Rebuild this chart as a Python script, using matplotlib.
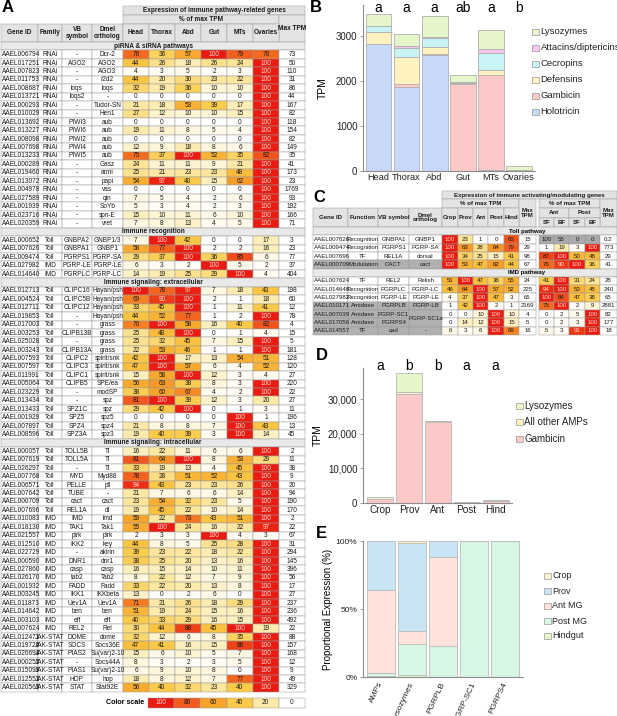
import matplotlib
matplotlib.use("Agg")
import matplotlib.pyplot as plt
from matplotlib.patches import Rectangle
from matplotlib.colors import LinearSegmentedColormap
import numpy as np

plt.rcParams["font.family"] = ["Liberation Sans", "DejaVu Sans"]

W, H = 617, 716

# ---------------------------------------------------------------- panel A data
A_TISSUES = ["Head", "Thorax", "Abd", "Gut", "MTs", "Ovaries"]

A_PIRNA = [
    ("AAEL006794", "RNAi", "-", "Dcr-2", [76, 36, 57, 100, 79, 76], "73"),
    ("AAEL017251", "RNAi", "AGO2", "AGO2", [44, 26, 18, 26, 24, 100], "50"),
    ("AAEL007823", "RNAi", "-", "AGO3", [4, 3, 5, 2, 3, 100], "110"),
    ("AAEL011753", "RNAi", "-", "r2d2", [44, 20, 30, 23, 22, 100], "31"),
    ("AAEL008687", "RNAi", "loqs", "loqs", [32, 19, 36, 10, 10, 100], "86"),
    ("AAEL013721", "RNAi", "loqs2", "-", [0, 0, 0, 0, 0, 100], "44"),
    ("AAEL000293", "RNAi", "-", "Tudor-SN", [21, 18, 53, 39, 17, 100], "167"),
    ("AAEL010029", "RNAi", "-", "Hen1", [27, 12, 10, 10, 15, 100], "82"),
    ("AAEL013692", "RNAi", "PIWI3", "aub", [0, 0, 0, 0, 0, 100], "118"),
    ("AAEL013227", "RNAi", "PIWI6", "aub", [19, 11, 8, 5, 4, 100], "154"),
    ("AAEL008098", "RNAi", "PIWI2", "aub", [0, 0, 0, 0, 0, 100], "82"),
    ("AAEL007698", "RNAi", "PIWI4", "aub", [12, 9, 18, 8, 6, 100], "149"),
    ("AAEL013233", "RNAi", "PIWI5", "aub", [75, 37, 100, 52, 35, 82], "35"),
    ("AAEL000289", "RNAi", "-", "Gasz", [24, 11, 11, 9, 21, 100], "41"),
    ("AAEL019460", "RNAi", "-", "armi", [25, 21, 23, 23, 48, 100], "173"),
    ("AAEL013072", "RNAi", "-", "papi", [54, 97, 40, 15, 62, 100], "23"),
    ("AAEL004978", "RNAi", "-", "vas", [0, 0, 0, 0, 0, 100], "1769"),
    ("AAEL027589", "RNAi", "-", "qin", [7, 5, 4, 2, 6, 100], "93"),
    ("AAEL001939", "RNAi", "-", "SoYb", [5, 3, 4, 2, 3, 100], "192"),
    ("AAEL023716", "RNAi", "-", "spn-E", [15, 10, 11, 6, 10, 100], "166"),
    ("AAEL020359", "RNAi", "-", "vret", [7, 8, 13, 4, 5, 100], "71"),
]

A_RECOG = [
    ("AAEL000652", "Toll", "GNBPA2", "GNBP1/3", [7, 100, 42, 0, 0, 17], "3"),
    ("AAEL007626", "Toll", "GNBPA1", "GNBP1", [56, 77, 100, 2, 2, 16], "23"),
    ("AAEL009474", "Toll", "PGRPS1", "PGRP-SA", [29, 37, 100, 36, 85, 6], "77"),
    ("AAEL027982", "IMD", "PGRP-LE", "PGRP-LE", [6, 3, 2, 100, 5, 2], "37"),
    ("AAEL014640", "IMD", "PGRPLC", "PGRP-LC", [14, 19, 25, 29, 100, 4], "404"),
]

A_EXTRA = [
    ("AAEL012713", "Toll", "CLIPC16", "Hayan/psh", [100, 78, 97, 7, 18, 43], "198"),
    ("AAEL004524", "Toll", "CLIPC5B", "Hayan/psh", [69, 90, 100, 2, 1, 18], "60"),
    ("AAEL012711", "Toll", "CLIPC12", "Hayan/psh", [33, 45, 100, 1, 11, 41], "12"),
    ("AAEL019853", "Toll", "-", "Hayan/psh", [44, 52, 77, 1, 2, 100], "78"),
    ("AAEL017003", "Toll", "-", "grass", [70, 100, 58, 16, 40, 82], "4"),
    ("AAEL003253", "Toll", "CLIPB13B", "grass", [25, 48, 100, 0, 1, 4], "15"),
    ("AAEL025028", "Toll", "-", "grass", [25, 32, 45, 7, 15, 100], "5"),
    ("AAEL003243", "Toll", "CLIPB13A", "grass", [22, 53, 46, 1, 1, 100], "181"),
    ("AAEL007593", "Toll", "CLIPC2", "spirit/snk", [42, 100, 17, 13, 54, 51], "128"),
    ("AAEL007597", "Toll", "CLIPC3", "spirit/snk", [47, 100, 57, 6, 4, 52], "120"),
    ("AAEL011991", "Toll", "CLIPC1", "spirit/snk", [15, 58, 100, 12, 3, 4], "27"),
    ("AAEL005064", "Toll", "CLIPB5", "SPE/ea", [56, 63, 38, 8, 3, 100], "220"),
    ("AAEL023229", "Toll", "-", "modSP", [38, 60, 67, 4, 2, 100], "22"),
    ("AAEL013434", "Toll", "-", "spz", [81, 100, 39, 12, 3, 20], "27"),
    ("AAEL013433", "Toll", "SPZ1C", "spz", [29, 42, 100, 0, 1, 3], "11"),
    ("AAEL001929", "Toll", "SPZ5", "spz5", [0, 0, 0, 0, 100, 1], "196"),
    ("AAEL007897", "Toll", "SPZ4", "spz4", [21, 8, 8, 7, 100, 43], "13"),
    ("AAEL008596", "Toll", "SPZ3A", "spz3", [19, 40, 39, 3, 100, 14], "45"),
]

A_INTRA = [
    ("AAEL000057", "Toll", "TOLL5B", "Tl", [16, 22, 11, 6, 6, 100], "2"),
    ("AAEL007619", "Toll", "TOLL5A", "Tl", [81, 64, 100, 8, 53, 29], "11"),
    ("AAEL026297", "Toll", "-", "Tl", [33, 19, 13, 4, 45, 100], "38"),
    ("AAEL007768", "Toll", "MYD", "Myd88", [78, 28, 51, 52, 43, 100], "9"),
    ("AAEL006571", "Toll", "PELLE", "pll", [94, 43, 23, 23, 26, 100], "20"),
    ("AAEL007642", "Toll", "TUBE", "-", [21, 7, 6, 6, 14, 100], "94"),
    ("AAEL000709", "Toll", "cact", "cact", [23, 54, 32, 23, 5, 100], "190"),
    ("AAEL007696", "Toll", "REL1A", "dl", [19, 45, 22, 10, 14, 100], "170"),
    ("AAEL010083", "IMD", "IMD", "imd", [59, 22, 73, 43, 51, 100], "2"),
    ("AAEL018130", "IMD", "TAK1", "Tak1", [55, 100, 24, 16, 22, 97], "22"),
    ("AAEL021557", "IMD", "pirk", "pirk", [2, 3, 3, 100, 4, 3], "67"),
    ("AAEL012510", "IMD", "IKK2", "key", [44, 8, 5, 25, 28, 100], "31"),
    ("AAEL022729", "IMD", "-", "akirin", [39, 23, 22, 18, 22, 100], "294"),
    ("AAEL000590", "IMD", "DNR1", "dnr1", [38, 25, 20, 13, 16, 100], "145"),
    ("AAEL027860", "IMD", "casp", "casp", [16, 15, 14, 10, 11, 100], "396"),
    ("AAEL026170", "IMD", "tab2", "Tab2", [8, 22, 12, 7, 9, 100], "56"),
    ("AAEL001932", "IMD", "FADD", "Fadd", [33, 22, 20, 13, 8, 100], "17"),
    ("AAEL003245", "IMD", "IKK1", "IKKbeta", [13, 0, 2, 6, 0, 100], "27"),
    ("AAEL011873", "IMD", "Uev1A", "Uev1A", [71, 21, 26, 18, 29, 100], "237"),
    ("AAEL014642", "IMD", "ben", "ben", [51, 19, 24, 15, 16, 100], "236"),
    ("AAEL003103", "IMD", "eff", "eff", [40, 33, 29, 16, 15, 100], "492"),
    ("AAEL007624", "IMD", "REL2", "Rel", [30, 44, 88, 45, 100, 19], "22"),
    ("AAEL012471", "JAK-STAT", "DOME", "dome", [32, 12, 6, 8, 35, 100], "88"),
    ("AAEL019726", "JAK-STAT", "SOCS", "Socs36E", [47, 41, 16, 15, 88, 100], "157"),
    ("AAEL026694", "JAK-STAT", "PIAS2", "Su(var)2-10", [15, 6, 10, 5, 7, 100], "168"),
    ("AAEL000255", "JAK-STAT", "-", "Socs44A", [8, 3, 2, 3, 5, 100], "12"),
    ("AAEL015099", "JAK-STAT", "PIAS1", "Su(var)2-10", [6, 9, 10, 8, 0, 100], "9"),
    ("AAEL012553", "JAK-STAT", "HOP", "hop", [18, 8, 12, 7, 77, 100], "49"),
    ("AAEL020569", "JAK-STAT", "STAT", "Stat92E", [56, 40, 32, 23, 40, 100], "329"),
]

A_SECTIONS = [
    ("piRNA & siRNA pathways", A_PIRNA),
    ("Immune recognition", A_RECOG),
    ("Immune signaling: extracellular", A_EXTRA),
    ("Immune signaling: intracellular", A_INTRA),
]
SCALE_VALUES = [100, 80, 60, 40, 20, 0]

# ---------------------------------------------------------------- panel B data
B_TISSUES = ["Head", "Thorax", "Abd", "Gut", "MTs", "Ovaries"]
B_HOLOTRICIN = [2820, 1870, 2590, 5, 30, 10]
B_GAMBICIN = [20, 60, 20, 1925, 2120, 15]
B_DEFENSINS = [256, 609, 152, 37, 104, 5]
B_CECROPINS = [126, 208, 208, 5, 371, 2]
B_ATTACINS = [18, 30, 10, 2, 97, 1]
B_LYSOZYMES = [249, 282, 465, 164, 423, 70]
B_LETTERS = ["a", "a", "a", "ab", "a", "b"]

# ---------------------------------------------------------------- panel C data
C_TOLL = [
    ("AAEL007626", "Recognition", "GNBPA1", "GNBP1", [100, 23, 1, 0, 83], "15", [100, 55, 0, 0], "0.2"),
    ("AAEL009474", "Recognition", "PGRPS1", "PGRP-SA", [100, 63, 28, 64, 79], "29", [1, 19, 3, 100], "773"),
    ("AAEL007696", "TF", "REL1A", "dorsal", [100, 34, 25, 15, 41], "98", [87, 100, 50, 48], "29"),
    ("AAEL000709", "Modulation", "CACT", "cact", [100, 53, 47, 62, 44], "67", [76, 90, 100, 36], "41"),
]
C_IMD = [
    ("AAEL007624", "TF", "REL2", "Relish", [51, 100, 47, 36, 55], "24", [41, 100, 31, 24], "28"),
    ("AAEL014640", "Recognition", "PGRPLC", "PGRP-LC", [46, 64, 100, 57, 52], "225", [94, 100, 53, 45], "240"),
    ("AAEL027982", "Recognition", "PGRP-LE", "PGRP-LE", [4, 37, 100, 47, 3], "65", [100, 84, 47, 38], "65"),
    ("AAEL010171", "Amidase", "PGRPLB", "PGRP-LB", [1, 42, 100, 2, 1], "2169", [75, 100, 2, 9], "2881"),
    ("AAEL007039", "Amidase", "PGRP-SC1", "PGRP-SC1a", [0, 0, 10, 100, 10], "4", [0, 2, 5, 100], "82"),
    ("AAEL017056", "Amidase", "PGRPS4", "", [0, 14, 12, 100, 15], "5", [0, 2, 3, 100], "177"),
    ("AAEL014557", "TF", "cad", "-", [6, 3, 6, 100, 69], "16", [5, 3, 91, 100], "18"),
]
C_GRAY_ROWS = ["AAEL000709", "AAEL010171", "AAEL007039", "AAEL017056", "AAEL014557"]

# ---------------------------------------------------------------- panel D data
D_REGIONS = ["Crop", "Prov", "Ant", "Post", "Hind"]
D_GAMBICIN = [1200, 31400, 23300, 120, 650]
D_OTHER_AMPS = [400, 700, 300, 40, 150]
D_LYSOZYMES = [200, 5400, 150, 40, 80]
D_LETTERS = ["a", "b", "b", "a", "a"]

# ---------------------------------------------------------------- panel E data
E_GENES = ["AMPs", "Lysozymes", "PGRPLB", "PGRP-SC1", "PGRPS4"]
E_HINDGUT = [1, 1.5, 0, 0, 0]
E_POST_MG = [2, 22.5, 23, 100, 100]
E_ANT_MG = [61, 9.5, 65, 0, 0]
E_PROV = [36, 65, 12, 0, 0]
E_CROP = [0, 1.5, 0, 0, 0]

# ---------------------------------------------------------------- styles
HEAT = LinearSegmentedColormap.from_list("heat", [
    (0.0, "#ffffff"), (0.2, "#fdeaa9"), (0.4, "#fbca48"),
    (0.6, "#f8a42a"), (0.8, "#f25b1d"), (1.0, "#ea1b10")])
HDR = "#e3e3e3"
SEC = "#e9e9e9"
GRAY = "#b0b0b0"
LINE = "#9a9a9a"
FS = 4.7
FS_C = 4.4
TFONT = ["Liberation Sans Narrow", "Liberation Sans", "DejaVu Sans"]

fig = plt.figure(figsize=(W / 100, H / 100), dpi=100)
fig.patch.set_facecolor("white")
tax = fig.add_axes([0, 0, 1, 1])
tax.set_xlim(0, W)
tax.set_ylim(H, 0)
tax.axis("off")


def cell(x0, y0, x1, y1, text="", fc="white", fs=FS, bold=False,
         ha="center", color="#1a1a1a", lw=0.35):
    tax.add_patch(Rectangle((x0, y0), x1 - x0, y1 - y0, facecolor=fc,
                            edgecolor=LINE, linewidth=lw))
    if text != "":
        tx = x0 + 1.0 if ha == "left" else (x0 + x1) / 2
        tax.text(tx, (y0 + y1) / 2, text, ha=ha, va="center", fontsize=fs,
                 fontweight="bold" if bold else "normal", color=color,
                 linespacing=0.95, family=TFONT)


def heat_cell(x0, y0, x1, y1, v, fc=None, fs=FS):
    col = HEAT(v / 100) if fc is None else fc
    tc = "#ffd8d0" if (v >= 90 and fc is None) else "#1a1a1a"
    cell(x0, y0, x1, y1, str(v), fc=col, color=tc, fs=fs)


def label(x, y, s):
    tax.text(x, y, s, ha="left", va="center", fontsize=12, fontweight="bold")


# ================================================================ panel A
A_X = [1, 38, 62, 92, 123, 149, 175, 201, 227, 253, 279, 305]
A_Y0, A_RH = 42.0, 8.44
label(2, 8, "A")
cell(123, 6, 305, 15, "Expression of immune pathway-related genes", HDR, bold=True)
cell(123, 15, 279, 23.5, "% of max TPM", HDR, bold=True)
cell(279, 15, 305, 42, "Max TPM", HDR, bold=True)
for i, h in enumerate(["Gene ID", "Family", "VB\nsymbol", "Dmel\northolog"] + A_TISSUES):
    cell(A_X[i], 23.5, A_X[i + 1], 42, h, HDR, bold=True)

y = A_Y0
for title, rows in A_SECTIONS:
    cell(A_X[0], y, A_X[-1], y + A_RH, title, SEC, bold=True)
    y += A_RH
    for gid, fam, vb, dm, vals, mx in rows:
        cell(A_X[0], y, A_X[1], y + A_RH, gid, ha="left")
        cell(A_X[1], y, A_X[2], y + A_RH, fam)
        cell(A_X[2], y, A_X[3], y + A_RH, vb)
        cell(A_X[3], y, A_X[4], y + A_RH, dm)
        for j, v in enumerate(vals):
            heat_cell(A_X[4 + j], y, A_X[5 + j], y + A_RH, v)
        cell(A_X[10], y, A_X[11], y + A_RH, mx)
        y += A_RH

tax.text(144, 703, "Color scale", ha="right", va="center", fontsize=FS + 0.4,
         fontweight="bold", family=TFONT)
sx = np.linspace(148, 305, len(SCALE_VALUES) + 1)
for k, v in enumerate(SCALE_VALUES):
    heat_cell(sx[k], 698, sx[k + 1], 708, v)

# ================================================================ panel C
label(313, 197, "C")
CL = [313, 348, 378, 409, 442]
CM = [442, 458, 473, 488, 504, 519, 536]
CR = [539, 554, 569, 585, 600, 617]
cell(442, 191, 617, 199, "Expression of immune activating/modulating genes", HDR,
     fs=FS_C, bold=True)
cell(442, 199, 519, 208, "% of max TPM", HDR, fs=FS_C, bold=True)
cell(519, 199, 536, 227, "Max\nTPM", HDR, fs=FS_C, bold=True)
cell(539, 199, 600, 208, "% of max TPM", HDR, fs=FS_C, bold=True)
cell(600, 199, 617, 227, "Max\nTPM", HDR, fs=FS_C, bold=True)
cell(539, 208, 569, 217.5, "Ant", HDR, fs=FS_C, bold=True)
cell(569, 208, 600, 217.5, "Post", HDR, fs=FS_C, bold=True)
for k, s in enumerate(["SF", "BF", "SF", "BF"]):
    cell(CR[k], 217.5, CR[k + 1], 227, s, HDR, fs=FS_C, bold=True)
for k, s in enumerate(["Gene ID", "Function", "VB symbol", "Dmel\northolog"]):
    cell(CL[k], 208, CL[k + 1], 227, s, HDR, fs=FS_C, bold=True)
for k, s in enumerate(D_REGIONS):
    cell(CM[k], 208, CM[k + 1], 227, s, HDR, fs=FS_C, bold=True)

C_RH = 8.3
y = 227.0
for title, rows in [("Toll pathway", C_TOLL), ("IMD pathway", C_IMD)]:
    cell(313, y, 617, y + C_RH, "", SEC)
    tax.text(527, y + C_RH / 2, title, ha="center", va="center",
             fontsize=FS_C, fontweight="bold", family=TFONT)
    y += C_RH
    for gid, fn, vb, dm, vals, mx, sfbf, mx2 in rows:
        fc = GRAY if gid in C_GRAY_ROWS else "white"
        cell(CL[0], y, CL[1], y + C_RH, gid, fc, fs=FS_C, ha="left")
        cell(CL[1], y, CL[2], y + C_RH, fn, fc, fs=FS_C)
        cell(CL[2], y, CL[3], y + C_RH, vb, fc, fs=FS_C)
        if dm == "PGRP-SC1a":
            cell(CL[3], y, CL[4], y + 2 * C_RH, dm, fc, fs=FS_C)
        elif dm != "":
            cell(CL[3], y, CL[4], y + C_RH, dm, fc, fs=FS_C)
        for j, v in enumerate(vals):
            heat_cell(CM[j], y, CM[j + 1], y + C_RH, v, fs=FS_C)
        cell(CM[5], y, CM[6], y + C_RH, mx, fs=FS_C)
        for j, v in enumerate(sfbf):
            heat_cell(CR[j], y, CR[j + 1], y + C_RH, v,
                      fc="#a9a9a9" if mx2 == "0.2" else None, fs=FS_C)
        cell(CR[4], y, CR[5], y + C_RH, mx2, fs=FS_C)
        y += C_RH


# ================================================================ chart helpers
def px_axes(x0, y0, x1, y1):
    a = fig.add_axes([x0 / W, 1 - y1 / H, (x1 - x0) / W, (y1 - y0) / H])
    a.set_facecolor("none")
    for s in ["top", "right"]:
        a.spines[s].set_visible(False)
    for s in ["left", "bottom"]:
        a.spines[s].set_color("#8c8c8c")
        a.spines[s].set_linewidth(0.8)
    a.tick_params(axis="both", colors="#8c8c8c", labelcolor="#222222",
                  labelsize=7, length=2.5, width=0.6, pad=1.5)
    a.tick_params(axis="x", length=0)
    return a


def stack(ax, x, layers, colors, edge, width):
    bottom = np.zeros(len(x))
    for vals, c in zip(layers, colors):
        vals = np.asarray(vals, dtype=float)
        ax.bar(x, vals, width, bottom=bottom, color=c, edgecolor=edge,
               linewidth=0.6)
        bottom += vals
    return bottom


def legend(x, ys, names, colors, fs=7):
    for yy, n, c in zip(ys, names, colors):
        tax.add_patch(Rectangle((x, yy - 3.3), 6.6, 6.6, facecolor=c,
                                edgecolor="#9a9a9a", linewidth=0.5))
        tax.text(x + 8.5, yy, n, ha="left", va="center", fontsize=fs,
                 color="#222222")


# ================================================================ panel B
label(310, 8, "B")
B_COLORS = ["#c8d8f8", "#fcc8c8", "#fdf2c0", "#c8f4f6", "#f8c4f2", "#e5f6c8"]
axb = px_axes(363, 5, 535, 171)
xb = np.arange(len(B_TISSUES))
stack(axb, xb, [B_HOLOTRICIN, B_GAMBICIN, B_DEFENSINS, B_CECROPINS,
                B_ATTACINS, B_LYSOZYMES], B_COLORS, "#b0b0b0", 0.92)
axb.set_xlim(-0.55, 5.57)
axb.set_ylim(0, 3700)
axb.set_yticks([0, 1000, 2000, 3000])
axb.set_xticks(xb)
axb.set_xticklabels(B_TISSUES, fontsize=6.6)
axb.set_ylabel("TPM", fontsize=7.5, labelpad=6)
for i, s in enumerate(B_LETTERS):
    axb.text(i, 3640, s, ha="center", va="center", fontsize=10, clip_on=False)
legend(532, [32, 48, 64, 80, 96, 112],
       ["Lysozymes", "Attacins/diptericins", "Cecropins", "Defensins",
        "Gambicin", "Holotricin"], B_COLORS[::-1], fs=6.8)

# ================================================================ panel D
label(316, 356, "D")
D_COLORS = ["#fcc8c8", "#fdf2c0", "#e5f6c8"]
axd = px_axes(363, 368, 512, 503)
xd = np.arange(len(D_REGIONS))
stack(axd, xd, [D_GAMBICIN, D_OTHER_AMPS, D_LYSOZYMES], D_COLORS,
      "#b8b8b8", 0.9)
axd.set_xlim(-0.59, 4.57)
axd.set_ylim(0, 39000)
axd.set_yticks([0, 10000, 20000, 30000])
axd.set_yticklabels(["0", "10,000", "20,000", "30,000"])
axd.set_xticks(xd)
axd.set_xticklabels(D_REGIONS, fontsize=7.2)
axd.set_ylabel("TPM", fontsize=7.5, labelpad=4)
for i, s in enumerate(D_LETTERS):
    axd.text(i, 39500, s, ha="center", va="center", fontsize=10, clip_on=False)
legend(516, [406, 422, 439], ["Lysozymes", "All other AMPs", "Gambicin"],
       D_COLORS[::-1])

# ================================================================ panel E
label(316, 533, "E")
E_COLORS = ["#e2f4c6", "#d6f7e4", "#fde3d9", "#c9e5f5", "#fdf5c9"]
axe = px_axes(363, 541, 523, 677)
xe = np.arange(len(E_GENES))
stack(axe, xe, [E_HINDGUT, E_POST_MG, E_ANT_MG, E_PROV, E_CROP], E_COLORS,
      "#bdbdbd", 0.9)
axe.set_xlim(-0.58, 4.58)
axe.set_ylim(0, 100)
axe.set_yticks([0, 50, 100])
axe.set_yticklabels(["0%", "50%", "100%"], fontsize=6)
axe.set_xticks(xe)
axe.set_xticklabels(E_GENES, fontsize=6, rotation=65, ha="right",
                    rotation_mode="anchor", va="center")
axe.tick_params(axis="x", pad=4)
axe.set_ylabel("Proportional Expression (%)", fontsize=7, labelpad=2)
legend(544, [576, 591, 606, 621, 636],
       ["Crop", "Prov", "Ant MG", "Post MG", "Hindgut"], E_COLORS[::-1], fs=6.5)

fig.savefig("out.png", dpi=100, facecolor="white")
